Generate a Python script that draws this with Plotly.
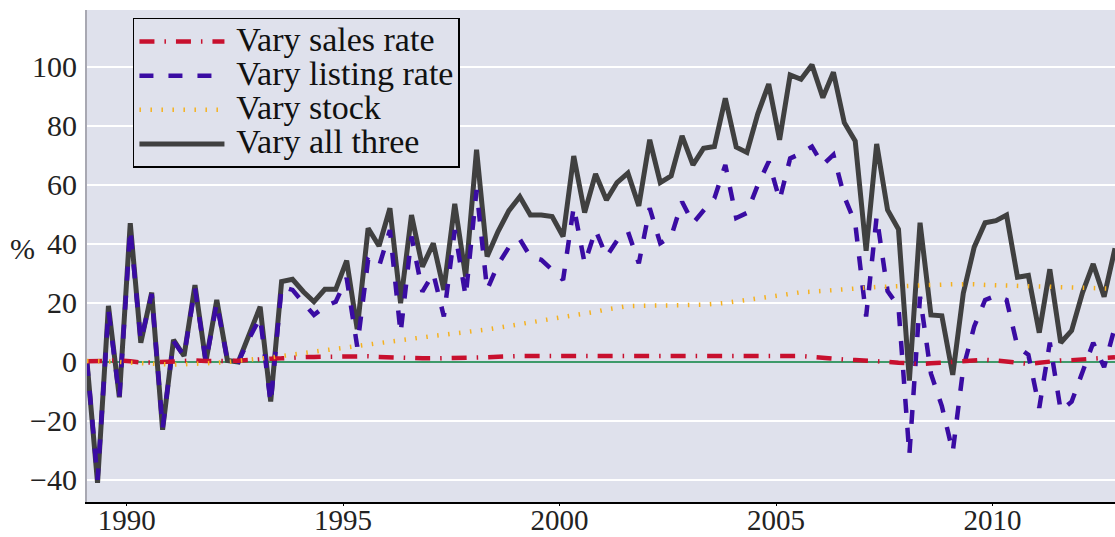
import pandas as pd
import plotly.graph_objects as go

# Quarterly observations, 1989Q1 .. 2012Q4 (dated at the end of the first month)
dates = pd.date_range("1989-01-31", periods=96, freq=pd.offsets.MonthEnd(3))

vary_sales = [0.2, 0.4, 0.6, 0.5, 0.2, -0.2, -0.2, 0, 0.3, 0.5,
              0.5, 0.3, 0.2, 0.3, 0.4, 0.7, 1.0, 1.1, 1.2, 1.5,
              1.6, 1.7, 1.8, 1.8, 1.8, 1.9, 1.9, 1.7, 1.5, 1.4,
              1.3, 1.2, 1.2, 1.2, 1.3, 1.4, 1.5, 1.6, 1.8, 1.9,
              2.0, 2.0, 2.0, 2.0, 2.0, 2.0, 2.1, 2.1, 2.1, 2.1,
              2.1, 2.1, 2.1, 2.0, 2.0, 2.0, 2.0, 2.0, 2.0, 2.1,
              2.2, 2.3, 2.3, 2.2, 2.2, 2.2, 2.0, 1.7, 1.3, 1.0,
              0.8, 0.6, 0.5, 0.3, 0, -0.3, -0.6, -0.7, -0.5, -0.2,
              0, 0.3, 0.6, 0.7, 0.5, 0, -0.5, -0.7, -0.3, 0.2,
              0.5, 0.6, 0.8, 1.2, 1.5, 1.6]

vary_listing = [0, -40, 17.5, -12, 45, 7, 23, -22.5, 7, 2,
                25, 0, 20, 0.5, 0, 8, 15, -14, 25.5, 24.4,
                20, 15.9, 18.8, 20.4, 28.4, 5.2, 34.6, 32.3, 44.7, 9.7,
                42.5, 23.8, 30, 15.4, 44.7, 22.1, 58.3, 24.4, 33, 38.9,
                41.6, 35.7, 34.6, 31.2, 27.8, 52.6, 33.4, 44.7, 35.7, 41.1,
                44.2, 33.4, 52.1, 40.2, 42.5, 54.3, 47, 51.3, 55.5, 66.8,
                48.8, 50.5, 60, 67.9, 54.9, 69, 70.7, 73, 66.8, 70.2,
                56, 47, 15.4, 49.3, 24, 18.8, -31.5, 22.1, -4, -15,
                -30.5, -2, 12, 21, 22.4, 21, 5.2, 2.4, -15.6, 6.5,
                -16.5, -13.5, -3.3, 6.5, -1.8, 12]

vary_stock = [0.3, 0.3, 0.2, 0, -0.3, -0.5, -0.7, -0.8, -0.9, -0.8,
              -0.7, -0.5, -0.3, 0, 0.3, 0.7, 1.1, 1.5, 2, 2.5,
              3.2, 3.6, 4.2, 4.4, 5, 5.5, 5.8, 6.3, 7, 7.4,
              7.8, 8.3, 8.8, 9.2, 9.6, 10, 10.6, 11, 11.6, 12.2,
              12.7, 13.2, 13.8, 14.5, 15.1, 15.8, 16.4, 17, 17.8, 18.5,
              18.9, 19, 19, 19, 19.2, 19.3, 19.3, 19.4, 19.6, 20,
              20.5, 21, 21.6, 22.2, 22.7, 23.3, 23.6, 23.8, 24.1, 24.4,
              24.7, 25, 25.2, 25.4, 25.5, 25.7, 25.9, 26, 26.1, 26.2,
              26.3, 26.4, 26.3, 26.1, 26, 25.8, 25.7, 25.5, 25.4, 25.3,
              25.2, 25.2, 25.1, 25, 25, 24.8]

vary_all = [0, -41, 19, -12, 47, 6.5, 23.5, -23, 7.5, 2,
            26, 0, 21, 0.5, 0, 9.5, 18.7, -13.4, 27.2, 28,
            23.8, 20.4, 24.6, 24.6, 34.3, 11.1, 45.3, 39.3, 52.1, 19.9,
            49.8, 32.3, 40.2, 24.4, 53.6, 28.9, 71.9, 35.7, 44.2, 51.3,
            56, 49.8, 49.8, 49.3, 42.5, 69.8, 50.6, 63.7, 54.9, 60.8,
            64, 52.9, 75.3, 60.8, 63.1, 76.6, 66.8, 72.4, 73, 89.4,
            72.8, 71, 84.1, 94.2, 75.3, 97.3, 95.8, 100.7, 89.6, 98.2,
            81.1, 74.9, 37.7, 73.9, 51.5, 45, -6.3, 47.2, 15.9, 15.6,
            -4.4, 23.3, 38.9, 47.2, 47.9, 49.8, 28.7, 29.3, 9.9, 31.4,
            6.5, 10.6, 23.5, 33.2, 22.1, 38.5]

names = ["Vary sales rate", "Vary listing rate", "Vary stock", "Vary all three"]
y_ticks = [-40, -20, 0, 20, 40, 60, 80, 100]

FONT = "Liberation Serif, Times New Roman, serif"
BG = "#dfe1ec"


def label(s):
    return '<span style="font-size:34px">&#8201;' + s + "</span>"


fig = go.Figure()
fig.add_trace(go.Scatter(x=dates, y=vary_all, mode="lines", name=label(names[3]),
                         line=dict(color="#404040", width=5), legendrank=4))
fig.add_trace(go.Scatter(x=dates, y=vary_listing, mode="lines", name=label(names[1]),
                         line=dict(color="#3a0ca3", width=4.5, dash="14px,15px"), legendrank=2))
fig.add_trace(go.Scatter(x=dates, y=vary_sales, mode="lines", name=label(names[0]),
                         line=dict(color="#c8102e", width=4.5, dash="15px,10px,1.5px,10px"),
                         legendrank=1))
fig.add_trace(go.Scatter(x=dates, y=vary_stock, mode="lines", name=label(names[2]),
                         line=dict(color="#f5b11f", width=4.5, dash="1.5px,9.5px"), legendrank=3))

fig.update_layout(
    width=1115, height=537,
    margin=dict(l=87, r=0, t=10, b=35, autoexpand=False),
    paper_bgcolor="white", plot_bgcolor=BG,
    font=dict(family=FONT, size=30, color="#222222"),
    showlegend=True,
    legend=dict(x=0.0447, y=0.984, xanchor="left", yanchor="top",
                bgcolor=BG, bordercolor="black", borderwidth=1.5,
                font=dict(family=FONT, size=24, color="#111111"),
                itemwidth=85, tracegroupgap=0),
    xaxis=dict(type="date", range=[dates[0], dates[-1]], automargin=False,
               tick0="1990-01-01", dtick="M60", tickformat="%Y",
               showgrid=False, zeroline=False,
               showline=True, linecolor="black", linewidth=1.5,
               ticks="outside", ticklen=2, tickcolor="black",
               tickfont=dict(family=FONT, size=29, color="#222222")),
    yaxis=dict(range=[-47.5, 119.3], tickvals=y_ticks, automargin=False,
               showgrid=True, gridcolor="white", gridwidth=1.5,
               zeroline=True, zerolinecolor="#3e9a6a", zerolinewidth=1.5,
               showline=True, linecolor="#a8a8b2", linewidth=2,
               ticks="outside", ticklen=2, tickcolor="rgba(0,0,0,0)",
               tickfont=dict(family=FONT, size=30, color="#222222")),
    annotations=[dict(text="%", xref="paper", yref="paper", x=-0.0632, y=0.516,
                      xanchor="center", yanchor="middle", showarrow=False,
                      font=dict(family=FONT, size=30, color="#222222"))],
)

try:
    fig.update_xaxes(ticklabelstandoff=-10)
except ValueError:
    pass

# Remove the browser's default 8px page margin so the 1115x537 figure fills the window.
page_fix = ("document.documentElement.style.margin='0';"
            "document.body.style.margin='0';"
            "document.documentElement.style.overflow='hidden';"
            "document.body.style.overflow='hidden';")

fig.write_html("out.html", post_script=page_fix,
               config={"displayModeBar": False, "staticPlot": True})
